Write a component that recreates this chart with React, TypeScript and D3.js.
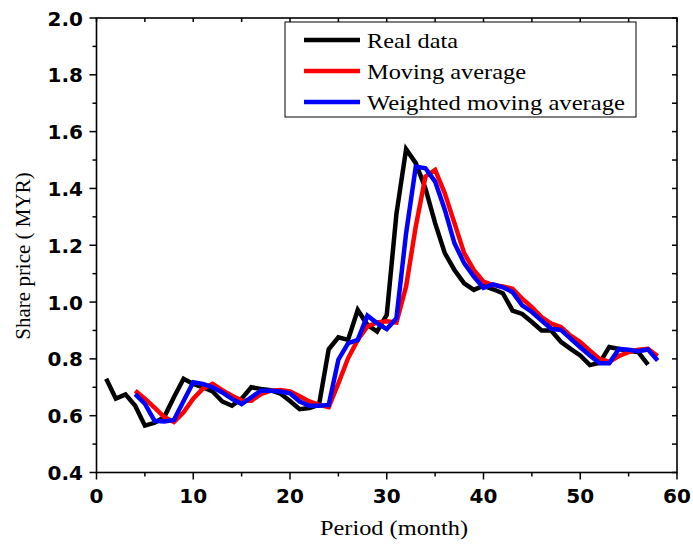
import React from "react";
import * as d3 from "d3";

// Monthly share price and its smoothed versions
const realMonths = d3.range(1, 58);
const realData = [
  0.73, 0.66, 0.675, 0.635, 0.565, 0.575, 0.595, 0.665, 0.73, 0.712,
  0.70, 0.685, 0.65, 0.635, 0.66, 0.70, 0.694, 0.69, 0.678, 0.652,
  0.623, 0.627, 0.638, 0.834, 0.876, 0.867, 0.972, 0.92, 0.896, 0.955,
  1.31, 1.538, 1.489, 1.40, 1.278, 1.172, 1.113, 1.066, 1.043, 1.058,
  1.045, 1.031, 0.97, 0.958, 0.93, 0.90, 0.90, 0.86, 0.835, 0.812,
  0.778, 0.786, 0.842, 0.835, 0.828, 0.824, 0.78,
];

const avgMonths = d3.range(4, 59);
const movingAverage = [
  0.688, 0.66, 0.628, 0.595, 0.578, 0.612, 0.66, 0.695, 0.712, 0.69,
  0.67, 0.653, 0.653, 0.676, 0.688, 0.69, 0.685, 0.668, 0.65, 0.638,
  0.63, 0.714, 0.802, 0.867, 0.914, 0.928, 0.932, 0.928, 1.055, 1.266,
  1.442, 1.465, 1.383, 1.278, 1.172, 1.113, 1.072, 1.06, 1.055, 1.047,
  1.012, 0.982, 0.947, 0.924, 0.912, 0.882, 0.859, 0.829, 0.80, 0.79,
  0.81, 0.824, 0.832, 0.835, 0.81,
];

const weightedMovingAverage = [
  0.676, 0.642, 0.582, 0.58, 0.585, 0.652, 0.718, 0.712, 0.70, 0.682,
  0.659, 0.641, 0.665, 0.688, 0.688, 0.685, 0.679, 0.65, 0.635, 0.635,
  0.638, 0.797, 0.855, 0.867, 0.952, 0.926, 0.905, 0.943, 1.242, 1.477,
  1.471, 1.424, 1.325, 1.207, 1.137, 1.09, 1.05, 1.062, 1.052, 1.035,
  0.988, 0.965, 0.935, 0.906, 0.902, 0.871, 0.841, 0.812, 0.785, 0.785,
  0.835, 0.832, 0.827, 0.833, 0.794,
];

const xTicks = [0, 10, 20, 30, 40, 50, 60];
const yTicks = [0.4, 0.6, 0.8, 1.0, 1.2, 1.4, 1.6, 1.8, 2.0];

const seriesList = [
  { name: "Real data", color: "#000000", months: realMonths, values: realData },
  { name: "Moving average", color: "#ff0000", months: avgMonths, values: movingAverage },
  { name: "Weighted moving average", color: "#0000ff", months: avgMonths, values: weightedMovingAverage },
];

const W = 693;
const H = 549;
const left = 96.5;
const right = 677;
const top = 18;
const bottom = 472.5;

const serifStyle = { fontFamily: "Liberation Serif, Times New Roman, Tinos, serif" };
const boldStyle = { fontFamily: "DejaVu Sans, Verdana, sans-serif", fontWeight: 700 as const };

export default function App() {
  const x = d3.scaleLinear().domain([0, 60]).range([left, right]);
  const y = d3.scaleLinear().domain([0.4, 2.0]).range([bottom, top]);

  const line = d3
    .line<[number, number]>()
    .x((d) => x(d[0]))
    .y((d) => y(d[1]));

  const minorX = d3.range(5, 60, 10);
  const allX = d3.range(0, 61, 5);
  const minorY = d3.range(0.5, 2.0, 0.2);
  const allY = d3.range(0.4, 2.0001, 0.1);

  return (
    <svg
      width={W}
      height={H}
      style={{ position: "absolute", left: 0, top: 0, background: "#fff" }}
    >
      <rect x={0} y={0} width={W} height={H} fill="#fff" />

      {/* data lines */}
      {seriesList.map((s) => (
        <path
          key={s.name}
          d={line(s.months.map((m, i) => [m, s.values[i]] as [number, number])) || ""}
          fill="none"
          stroke={s.color}
          strokeWidth={4.5}
          strokeLinejoin="miter"
        />
      ))}

      {/* frame */}
      <rect
        x={left}
        y={top}
        width={right - left}
        height={bottom - top}
        fill="none"
        stroke="#000"
        strokeWidth={1.6}
      />

      {/* bottom axis ticks */}
      {xTicks.map((t) => (
        <line key={"xb" + t} x1={x(t)} x2={x(t)} y1={bottom} y2={bottom + 7} stroke="#000" strokeWidth={1.5} />
      ))}
      {minorX.map((t) => (
        <line key={"xm" + t} x1={x(t)} x2={x(t)} y1={bottom} y2={bottom + 4} stroke="#000" strokeWidth={1.5} />
      ))}
      {/* top axis ticks */}
      {allX.map((t) => (
        <line key={"xt" + t} x1={x(t)} x2={x(t)} y1={top} y2={top + 4} stroke="#000" strokeWidth={1.5} />
      ))}
      {/* left axis ticks */}
      {yTicks.map((t) => (
        <line key={"yl" + t} x1={left - 7} x2={left} y1={y(t)} y2={y(t)} stroke="#000" strokeWidth={1.5} />
      ))}
      {minorY.map((t) => (
        <line key={"ym" + t} x1={left - 4} x2={left} y1={y(t)} y2={y(t)} stroke="#000" strokeWidth={1.5} />
      ))}
      {/* right axis ticks */}
      {allY.map((t) => (
        <line key={"yr" + t.toFixed(1)} x1={right - 5} x2={right} y1={y(t)} y2={y(t)} stroke="#000" strokeWidth={1.5} />
      ))}

      {/* tick labels */}
      {xTicks.map((t) => (
        <text key={"xl" + t} x={x(t)} y={bottom + 30.5} textAnchor="middle" fontSize={20} style={boldStyle}>
          {t}
        </text>
      ))}
      {yTicks.map((t) => (
        <text key={"ylab" + t} x={left - 13.5} y={y(t) + 7.5} textAnchor="end" fontSize={20} style={boldStyle}>
          {t.toFixed(1)}
        </text>
      ))}

      {/* axis titles */}
      <text
        x={320}
        y={535}
        fontSize={21}
        textLength={148}
        lengthAdjust="spacingAndGlyphs"
        style={serifStyle}
      >
        Period (month)
      </text>
      <text
        transform="translate(30,256) rotate(-90)"
        textAnchor="middle"
        fontSize={21}
        style={serifStyle}
      >
        Share price ( MYR)
      </text>

      {/* legend */}
      <rect x={285} y={22} width={351} height={95} fill="#fff" stroke="#000" strokeWidth={1} />
      {seriesList.map((s, i) => (
        <g key={"lg" + s.name}>
          <line x1={304} x2={360} y1={40 + i * 31} y2={40 + i * 31} stroke={s.color} strokeWidth={4.5} />
          <text
            x={367}
            y={48 + i * 31}
            fontSize={21}
            textLength={[91, 159, 258][i]}
            lengthAdjust="spacingAndGlyphs"
            style={serifStyle}
          >
            {s.name}
          </text>
        </g>
      ))}
    </svg>
  );
}
